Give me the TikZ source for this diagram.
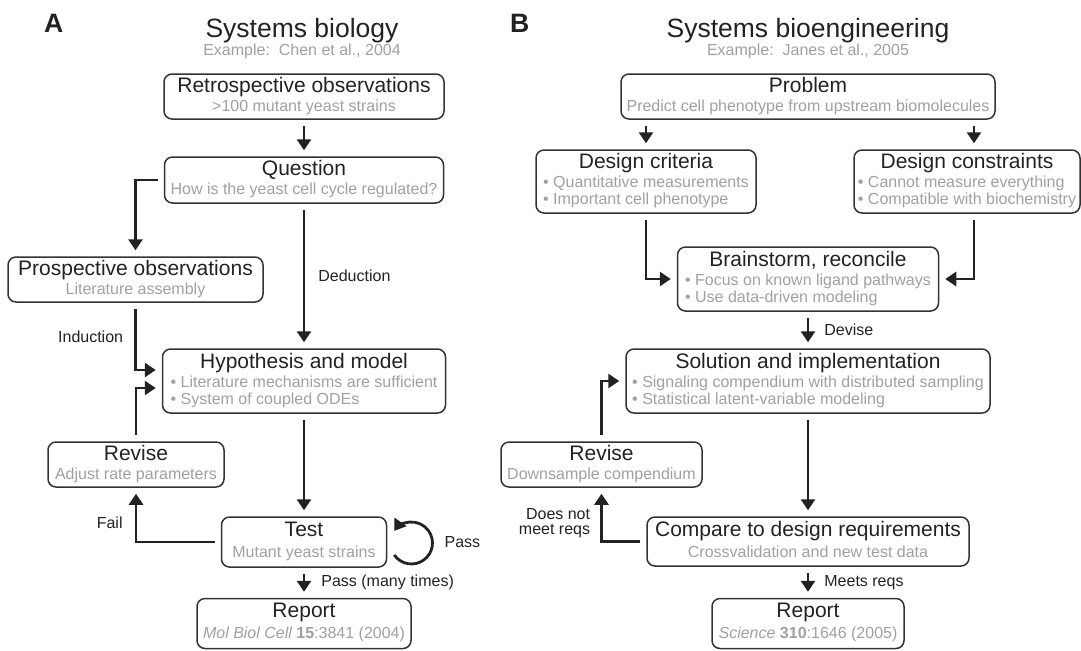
\documentclass[tikz,border=0pt]{standalone}
\usepackage{fontspec}
\setmainfont{Liberation Sans}
\usetikzlibrary{arrows.meta,positioning}
\definecolor{ink}{RGB}{34,34,34}
\definecolor{softgray}{RGB}{160,160,160}
\definecolor{frame}{RGB}{50,50,50}
\newcommand{\mainsz}{\fontsize{10.5}{12}\selectfont}
\newcommand{\subsz}{\fontsize{8}{8.5}\selectfont}
\newcommand{\flowtxt}[3][1pt]{\begin{tabular}{@{}c@{}}{\mainsz\color{ink}#2}\\[#1]#3\end{tabular}}
\newcommand{\twobul}[2]{\begin{tabular}[t]{@{}l@{}}\textbullet\ #1\\\textbullet\ #2\end{tabular}}

\begin{document}
\begin{tikzpicture}[x=0.5pt, y=-0.5pt,
		box/.style={draw=frame, line width=0.75pt, rounded corners=4pt, inner xsep=2pt, inner ysep=0pt, font=\subsz, text=softgray},
		arr/.style={draw=ink, line width=1.4pt, -{Triangle[length=5.5pt,width=7pt]}, shorten >=3pt, shorten <=3pt},
		lbl/.style={font=\subsz, text=ink, inner sep=0pt},
		heading/.style={font=\fontsize{13.25}{15}\selectfont, text=ink, anchor=base},
		exref/.style={font=\subsz, text=softgray, anchor=base},
		panel/.style={font=\fontsize{13.3}{15}\selectfont\bfseries, text=ink, anchor=base west}]
		\useasboundingbox (0,0) rectangle (1081,650);

		\node[panel] (labA) at (37,32) {A};
		\node[heading] (headA) at (302,37) {Systems biology};
		\node[exref] (citeA) at (302,55) {Example:\ \ Chen et al., 2004};
		\node[box, minimum width=140pt, minimum height=22.5pt] (retro) at (304,96.5) {\flowtxt{Retrospective observations}{>100 mutant yeast strains}};
		\node[box, minimum width=139.5pt, minimum height=23pt] (question) at (304,180) {\flowtxt{Question}{How is the yeast cell cycle regulated?}};
		\node[box, minimum width=127.5pt, minimum height=22.5pt] (prosp) at (135.5,279.5) {\flowtxt{Prospective observations}{Literature assembly}};
		\node[box, minimum width=141.5pt, minimum height=32pt] (hypo) at (304,381) {\flowtxt{Hypothesis and model}{\twobul{Literature mechanisms are sufficient}{System of coupled ODEs}}};
		\node[box, minimum width=88pt, minimum height=22.5pt] (reviseA) at (136,464.5) {\flowtxt{Revise}{Adjust rate parameters}};
		\node[box, minimum width=82.5pt, minimum height=25pt] (test) at (304,542) {\flowtxt[2pt]{Test}{Mutant yeast strains}};
		\node[box, minimum width=107pt, minimum height=25pt] (reportA) at (304,623.5) {\flowtxt[2pt]{Report}{{\itshape Mol Biol Cell} {\bfseries 15}:3841 (2004)}};

		\draw[arr] (retro) -- (question);
		\draw[arr] (question.west) -| (prosp);
		\draw[arr] (question) -- node[lbl, right=6.5pt] {Deduction} (hypo);
		\draw[arr] (prosp) |- node[lbl, left=5.5pt, pos=0.25] {Induction} ([yshift=5.5pt]hypo.west);
		\draw[arr] (reviseA) |- ([yshift=-3.5pt]hypo.west);
		\draw[arr] (hypo) -- (test);
		\draw[arr] (test.west) -| node[lbl, left=6pt, pos=0.68] {Fail} (reviseA);
		\draw[arr, shorten <=0pt, shorten >=0pt] ([shift={(7,13)}]test.east) arc[start angle=-145, end angle=145, radius=10.5pt];
		\node[lbl, right=28.5pt of test] (passlbl) {Pass};
		\draw[arr] (test) -- node[lbl, right=8pt] {Pass (many times)} (reportA);

		\node[panel] (labB) at (503,32) {B};
		\node[heading] (headB) at (808,37) {Systems bioengineering};
		\node[exref] (citeB) at (808,55) {Example:\ \ Janes et al., 2005};
		\node[box, minimum width=187pt, minimum height=22.5pt] (problem) at (808,96.5) {\flowtxt{Problem}{Predict cell phenotype from upstream biomolecules}};
		\node[box, minimum width=110pt, minimum height=31.5pt] (criteria) at (646,181.5) {\flowtxt{Design criteria}{\twobul{Quantitative measurements}{Important cell phenotype}}};
		\node[box, minimum width=113pt, minimum height=31.5pt, inner xsep=1pt] (constraints) at (967,181.5) {\flowtxt{Design constraints}{\twobul{Cannot measure everything}{Compatible with biochemistry}}};
		\node[box, minimum width=130.5pt, minimum height=32pt] (brainstorm) at (808,279) {\flowtxt{Brainstorm, reconcile}{\twobul{Focus on known ligand pathways}{Use data-driven modeling}}};
		\node[box, minimum width=182pt, minimum height=32pt] (solution) at (808,381) {\flowtxt{Solution and implementation}{\twobul{Signaling compendium with distributed sampling}{Statistical latent-variable modeling}}};
		\node[box, minimum width=100.5pt, minimum height=22.5pt] (reviseB) at (601.5,464.5) {\flowtxt{Revise}{Downsample compendium}};
		\node[box, minimum width=161pt, minimum height=24.5pt] (compare) at (808,541.5) {\flowtxt[2pt]{Compare to design requirements}{Crossvalidation and new test data}};
		\node[box, minimum width=96pt, minimum height=25pt] (reportB) at (808,623.5) {\flowtxt[2pt]{Report}{{\itshape Science} {\bfseries 310}:1646 (2005)}};
		\coordinate (ctop) at ([xshift=3.5pt]constraints.north);
		\coordinate (cbot) at ([xshift=3.5pt]constraints.south);

		\draw[arr] (problem.south -| criteria.north) -- (criteria);
		\draw[arr] (problem.south -| ctop) -- (ctop);
		\draw[arr] (criteria) |- (brainstorm);
		\draw[arr] (cbot) |- (brainstorm);
		\draw[arr] (brainstorm) -- node[lbl, right=7.5pt] {Devise} (solution);
		\draw[arr] (solution) -- (compare);
		\draw[arr] (compare.west) -| node[lbl, left=5pt, pos=0.675, align=right, font=\fontsize{8}{7.5}\selectfont] {Does not\\meet reqs} (reviseB);
		\draw[arr] (reviseB) |- (solution);
		\draw[arr] (compare) -- node[lbl, right=7.5pt] {Meets reqs} (reportB);
	\end{tikzpicture}
\end{document}
